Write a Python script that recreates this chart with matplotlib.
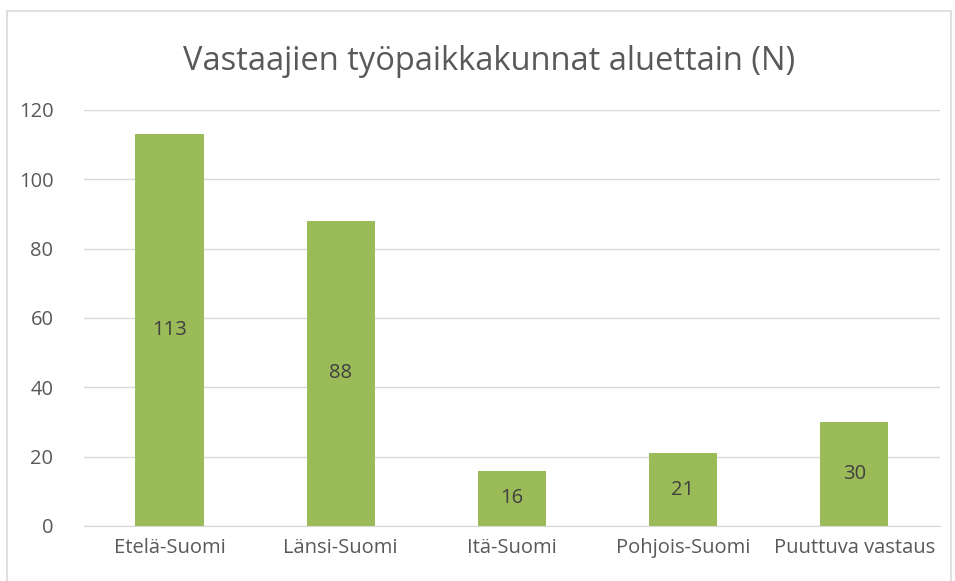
import matplotlib
matplotlib.use("Agg")
import matplotlib.pyplot as plt
from matplotlib.patches import Rectangle

categories = ["Etelä-Suomi", "Länsi-Suomi", "Itä-Suomi", "Pohjois-Suomi", "Puuttuva vastaus"]
values = [113, 88, 16, 21, 30]
yticks = [0, 20, 40, 60, 80, 100, 120]

plt.rcParams['font.family'] = ['Open Sans', 'DejaVu Sans']

fig = plt.figure(figsize=(9.55, 5.81), dpi=100)
fig.patches.append(Rectangle((0.0075, -0.01), 0.988, 0.991, transform=fig.transFigure,
                             fill=False, edgecolor='#D9D9D9', linewidth=1.2))
ax = fig.add_axes([0.088, 0.0947, 0.896, 0.716])

x = list(range(len(categories)))
ax.bar(x, values, width=0.4, color='#9BBB59', zorder=3)
for xi, v in zip(x, values):
    ax.text(xi, v / 2, str(v), ha='center', va='center', fontsize=14.5, color='#404040', zorder=4)

ax.set_xlim(-0.5, 4.5)
ax.set_ylim(0, 120)
ax.set_yticks(yticks)
ax.set_xticks(x)
ax.set_xticklabels(categories)
ax.tick_params(axis='both', length=0, labelsize=14.5, labelcolor='#595959')
ax.tick_params(axis='y', pad=22)
ax.tick_params(axis='x', pad=9)
ax.grid(axis='y', color='#D9D9D9', linewidth=1, zorder=0)
for s in ['top', 'right', 'left']:
    ax.spines[s].set_visible(False)
ax.spines['bottom'].set_color('#D9D9D9')
ax.spines['bottom'].set_zorder(5)

fig.text(0.512, 0.895, "Vastaajien työpaikkakunnat aluettain (N)", ha='center', va='center',
         fontsize=23.5, color='#595959')

fig.savefig("out.png", dpi=100)
